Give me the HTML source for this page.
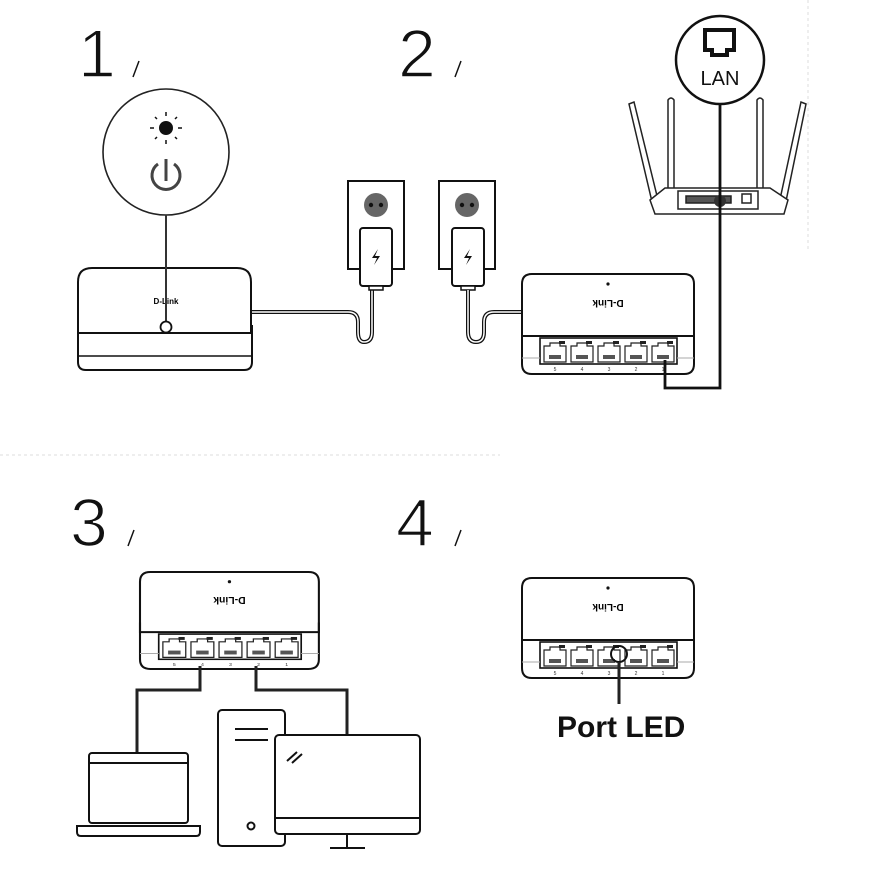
<!DOCTYPE html>
<html><head><meta charset="utf-8"><style>
html,body{margin:0;padding:0;background:#fff;width:870px;height:870px;overflow:hidden}
svg{display:block}
text{font-family:"Liberation Sans",sans-serif}
</style></head><body>
<svg width="870" height="870" viewBox="0 0 870 870" xmlns="http://www.w3.org/2000/svg">
<defs>
<g id="port">
  <path d="M2 4 h6 v-3 h10 v3 h6 v16 h-22 z" fill="none" stroke="#222" stroke-width="1.2"/>
  <rect x="7" y="13" width="12" height="4" fill="#555"/>
  <rect x="17" y="-1" width="6" height="3" fill="#222"/>
</g>
<g id="sw">
  <path d="M10 0 H162 Q172 0 172 10 V62 H0 V10 Q0 0 10 0 Z" fill="#fff" stroke="#111" stroke-width="2"/>
  <path d="M0 52 V90 Q0 100 10 100 H162 Q172 100 172 90 V52" fill="none" stroke="#111" stroke-width="2"/>
  <rect x="18" y="64" width="137" height="26" fill="#fff" stroke="#111" stroke-width="1.6"/>
  <use href="#port" x="20" y="68"/><use href="#port" x="47" y="68"/><use href="#port" x="74" y="68"/><use href="#port" x="101" y="68"/><use href="#port" x="128" y="68"/>
  <line x1="0" y1="84" x2="18" y2="84" stroke="#aaa"/><line x1="155" y1="84" x2="172" y2="84" stroke="#aaa"/>
  <circle cx="86" cy="10" r="1.6" fill="#111"/>
  <text x="86" y="34" font-size="10" font-weight="bold" text-anchor="middle" transform="rotate(180 86 30)" font-family="Liberation Serif,serif">D-Link</text>
  <g font-size="5" fill="#333" text-anchor="middle"><text x="33" y="97">5</text><text x="60" y="97">4</text><text x="87" y="97">3</text><text x="114" y="97">2</text><text x="141" y="97">1</text></g>
</g>
<g id="outlet">
  <rect x="0" y="0" width="56" height="88" fill="#fff" stroke="#111" stroke-width="2"/>
  <circle cx="28" cy="24" r="12" fill="#666"/>
  <circle cx="23" cy="24" r="2.2" fill="#111"/><circle cx="33" cy="24" r="2.2" fill="#111"/>
</g>
<g id="plug">
  <rect x="0" y="0" width="32" height="58" rx="3" fill="#fff" stroke="#111" stroke-width="2"/>
  <path d="M18 21 L12 30 H17 L14 37 L20 28 H15 Z" fill="#111"/>
  <rect x="9" y="58" width="14" height="4" fill="#fff" stroke="#111" stroke-width="1.5"/>
</g>
</defs>

<line x1="0" y1="455" x2="500" y2="455" stroke="#ddd" stroke-dasharray="3 3"/>
<line x1="808" y1="0" x2="808" y2="250" stroke="#ddd" stroke-dasharray="3 3"/>

<g font-size="68" fill="#111" stroke="#fff" stroke-width="1.6">
<text x="78" y="77">1</text><text x="398" y="77">2</text><text x="70" y="546">3</text><text x="396" y="546">4</text>
</g>
<g stroke="#111" stroke-width="1.5">
<line x1="133" y1="77" x2="139" y2="61"/><line x1="455" y1="77" x2="461" y2="61"/>
<line x1="128" y1="546" x2="134" y2="530"/><line x1="455" y1="546" x2="461" y2="530"/>
</g>

<!-- step 1 -->
<circle cx="166" cy="152" r="63" fill="#fff" stroke="#222" stroke-width="1.6"/>
<circle cx="166" cy="128" r="7" fill="#111"/>
<g stroke="#111" stroke-width="1.5">
<line x1="166" y1="112" x2="166" y2="116"/><line x1="166" y1="140" x2="166" y2="144"/>
<line x1="150" y1="128" x2="154" y2="128"/><line x1="178" y1="128" x2="182" y2="128"/>
<line x1="155" y1="117" x2="157" y2="119"/><line x1="175" y1="137" x2="177" y2="139"/>
<line x1="177" y1="117" x2="175" y2="119"/><line x1="157" y1="137" x2="155" y2="139"/>
</g>
<path d="M158 164 A14 14 0 1 0 174 164" fill="none" stroke="#444" stroke-width="3"/>
<line x1="166" y1="159" x2="166" y2="181" stroke="#444" stroke-width="3"/>
<path d="M252 312 H348 Q358 312 358 322 V332 Q358 342 364 342 Q372 342 372 332 V290" fill="none" stroke="#111" stroke-width="4"/>
<path d="M252 312 H348 Q358 312 358 322 V332 Q358 342 364 342 Q372 342 372 332 V290" fill="none" stroke="#fff" stroke-width="1.5"/>
<path d="M92 268 H237 Q251 268 251 282 V333 H78 V282 Q78 268 92 268 Z" fill="#fff" stroke="#111" stroke-width="2"/>
<path d="M78 325 V362 Q78 370 86 370 H244 Q252 370 252 362 V325" fill="none" stroke="#111" stroke-width="2"/>
<line x1="78" y1="356" x2="252" y2="356" stroke="#111" stroke-width="1.5"/>
<text x="166" y="304" font-size="8" font-weight="bold" text-anchor="middle" font-family="Liberation Serif,serif">D-Link</text>
<line x1="166" y1="215" x2="166" y2="322" stroke="#333" stroke-width="2"/>
<circle cx="166" cy="327" r="5.5" fill="#fff" stroke="#111" stroke-width="1.8"/>
<use href="#outlet" x="348" y="181"/>
<use href="#plug" x="360" y="228"/>

<!-- step 2 -->
<use href="#outlet" x="439" y="181"/>
<use href="#plug" x="452" y="228"/>
<path d="M468 290 V332 Q468 342 476 342 Q484 342 484 332 V322 Q484 312 494 312 H524" fill="none" stroke="#111" stroke-width="4"/>
<path d="M468 290 V332 Q468 342 476 342 Q484 342 484 332 V322 Q484 312 494 312 H524" fill="none" stroke="#fff" stroke-width="1.5"/>
<use href="#sw" x="522" y="274"/>
<g stroke="#222" stroke-width="1.5" fill="#fff">
<path d="M629 104 L634 102 L659 204 L653 206 Z"/>
<path d="M668 100 Q671 96 674 100 V196 H668 Z"/>
<path d="M757 100 Q760 96 763 100 V196 H757 Z"/>
<path d="M806 104 L801 102 L779 204 L785 206 Z"/>
<path d="M650 200 L665 188 H770 L788 200 L784 214 H655 Z"/>
<rect x="678" y="191" width="80" height="18"/>
<rect x="686" y="196" width="45" height="7" fill="#555"/>
<rect x="742" y="194" width="9" height="9" fill="#fff"/>
</g>
<circle cx="720" cy="60" r="44" fill="#fff" stroke="#111" stroke-width="2.5"/>
<path d="M705 30 H734 V50 H727 V55 H712 V50 H705 Z" fill="none" stroke="#111" stroke-width="4"/>
<text x="720" y="85" font-size="20" text-anchor="middle" fill="#111">LAN</text>
<circle cx="720" cy="201" r="6" fill="#333"/>
<path d="M720 104 V388 H665 V360" fill="none" stroke="#111" stroke-width="2.8"/>

<!-- step 3 -->
<use href="#sw" x="140" y="572" transform="translate(140 572) scale(1.04 0.97) translate(-140 -572)"/>
<path d="M200 666 V690 H137 V752" fill="none" stroke="#222" stroke-width="3"/>
<path d="M256 666 V690 H347 V735" fill="none" stroke="#222" stroke-width="3"/>
<g fill="#fff" stroke="#111" stroke-width="2">
<rect x="89" y="753" width="99" height="70" rx="3"/>
<line x1="89" y1="763" x2="188" y2="763"/>
<path d="M77 826 H200 V832 Q200 836 196 836 H81 Q77 836 77 832 Z"/>
<rect x="218" y="710" width="67" height="136" rx="4"/>
<line x1="235" y1="729" x2="268" y2="729"/><line x1="235" y1="740" x2="268" y2="740"/>
<circle cx="251" cy="826" r="3.5"/>
<rect x="275" y="735" width="145" height="99" rx="4"/>
<line x1="275" y1="818" x2="420" y2="818"/>
<line x1="347" y1="834" x2="347" y2="848"/><line x1="330" y1="848" x2="365" y2="848"/>
<line x1="287" y1="761" x2="297" y2="752"/><line x1="292" y1="763" x2="302" y2="754"/>
</g>

<!-- step 4 -->
<use href="#sw" x="522" y="578"/>
<circle cx="619" cy="654" r="8" fill="none" stroke="#111" stroke-width="2"/>
<line x1="619" y1="662" x2="619" y2="704" stroke="#222" stroke-width="3"/>
<text x="557" y="737" font-size="30" font-weight="bold" fill="#111">Port LED</text>
</svg>
</body></html>
